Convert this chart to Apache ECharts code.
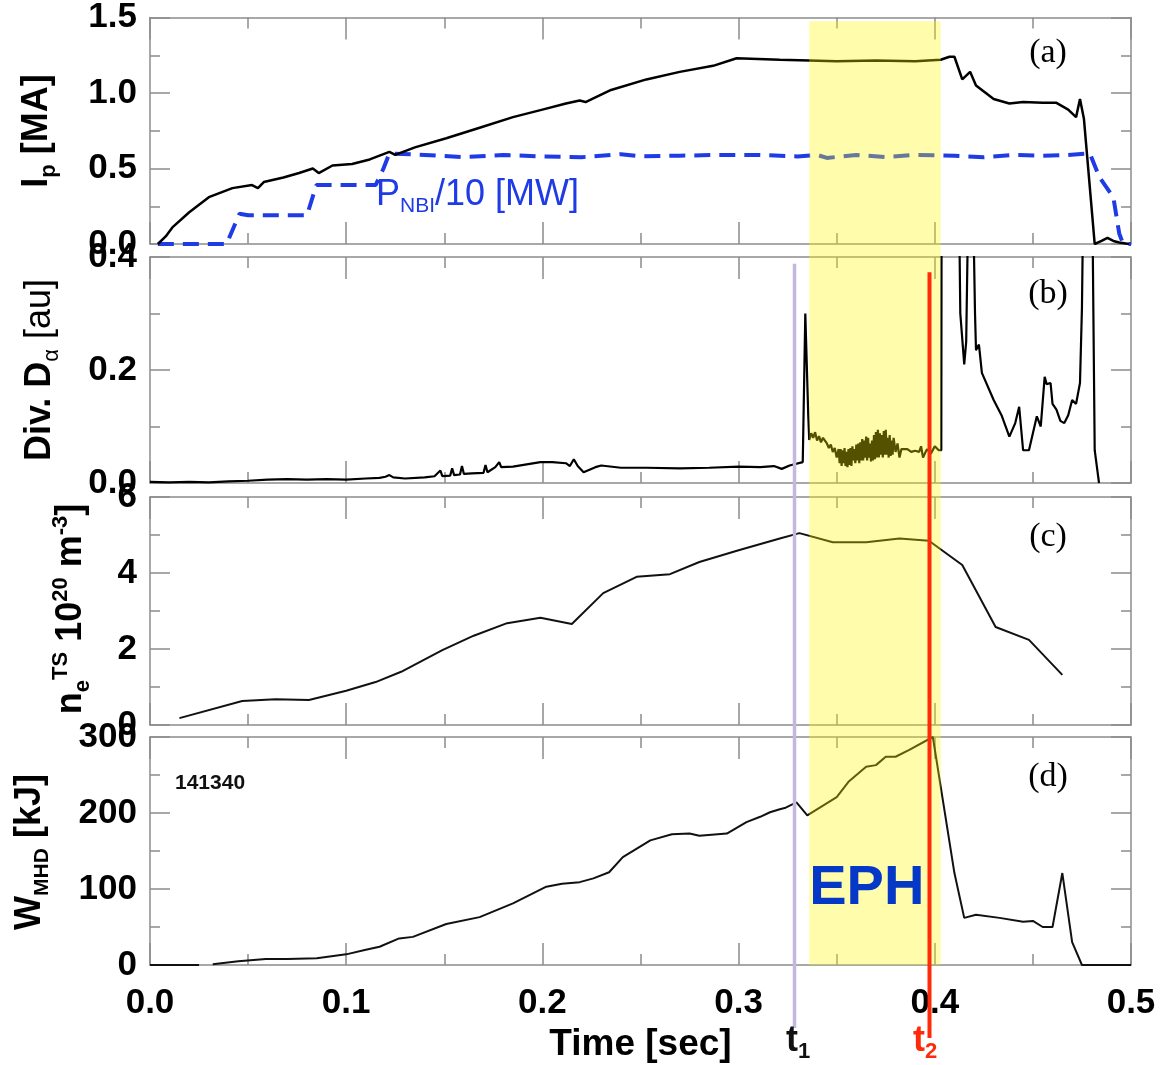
<!DOCTYPE html>
<html><head><meta charset="utf-8">
<script src="https://cdn.jsdelivr.net/npm/echarts@6/dist/echarts.min.js"></script>
<style>html,body{margin:0;padding:0;background:#fff}#c{width:1165px;height:1065px}</style>
</head><body><div id="c"></div>
<script>
// ---------- tick labels ----------
const timeTicks = ['0.0','0.1','0.2','0.3','0.4','0.5'];
const ipTicks = ['0.0','0.5','1.0','1.5'];
const daTicks = ['0.0','0.2','0.4'];
const neTicks = ['0','2','4','6'];
const wTicks = ['0','100','200','300'];

// ---------- (a) plasma current [MA] ----------
const ipPoints = [[0.004,0.0],[0.008,0.05],[0.0114,0.11],[0.02,0.21],[0.030,0.31],[0.036,0.34],[0.042,0.37],[0.052,0.39],[0.055,0.37],[0.058,0.41],[0.068,0.44],[0.076,0.47],[0.083,0.50],[0.086,0.47],[0.093,0.52],[0.103,0.53],[0.112,0.56],[0.122,0.61],[0.125,0.59],[0.135,0.64],[0.151,0.70],[0.168,0.77],[0.185,0.84],[0.200,0.89],[0.212,0.93],[0.219,0.95],[0.222,0.94],[0.235,1.02],[0.253,1.09],[0.270,1.14],[0.287,1.18],[0.299,1.23],[0.310,1.225],[0.321,1.22],[0.336,1.215],[0.350,1.21],[0.370,1.215],[0.390,1.21],[0.403,1.22],[0.4075,1.24],[0.410,1.24],[0.414,1.09],[0.418,1.14],[0.421,1.05],[0.430,0.96],[0.438,0.93],[0.445,0.94],[0.455,0.935],[0.462,0.935],[0.468,0.89],[0.472,0.84],[0.474,0.96],[0.476,0.83],[0.4815,0.0],[0.485,0.02],[0.488,0.04],[0.491,0.02],[0.494,0.01],[0.499,0.0]];
// P_NBI / 10 [MW]
const pnbiPoints = [[0.004,0],[0.039,0],[0.0456,0.20],[0.05,0.19],[0.080,0.19],[0.0848,0.39],[0.115,0.39],[0.119,0.50],[0.122,0.60],[0.14,0.59],[0.16,0.575],[0.18,0.59],[0.20,0.58],[0.22,0.575],[0.24,0.595],[0.25,0.58],[0.27,0.585],[0.29,0.59],[0.31,0.59],[0.33,0.58],[0.34,0.59],[0.345,0.57],[0.36,0.59],[0.375,0.575],[0.39,0.59],[0.41,0.585],[0.425,0.575],[0.44,0.59],[0.455,0.585],[0.468,0.59],[0.479,0.60],[0.484,0.44],[0.491,0.31],[0.494,0.07],[0.496,0.0],[0.5,0.0]];

// ---------- (b) divertor D-alpha [au] ----------
const dalphaPoints = [[0.0,0.002],[0.01,0.001],[0.02,0.002],[0.03,0.001],[0.04,0.003],[0.05,0.004],[0.06,0.006],[0.07,0.007],[0.08,0.006],[0.09,0.007],[0.10,0.006],[0.11,0.008],[0.117,0.009],[0.12,0.011],[0.122,0.014],[0.124,0.010],[0.13,0.008],[0.14,0.010],[0.145,0.012],[0.148,0.022],[0.149,0.012],[0.153,0.013],[0.154,0.026],[0.155,0.014],[0.158,0.015],[0.159,0.030],[0.160,0.016],[0.164,0.017],[0.170,0.018],[0.171,0.032],[0.172,0.019],[0.176,0.028],[0.178,0.037],[0.179,0.028],[0.185,0.029],[0.199,0.037],[0.205,0.037],[0.212,0.035],[0.214,0.030],[0.216,0.042],[0.218,0.030],[0.221,0.019],[0.227,0.028],[0.230,0.031],[0.240,0.027],[0.253,0.027],[0.270,0.026],[0.285,0.027],[0.300,0.029],[0.311,0.028],[0.318,0.030],[0.322,0.025],[0.326,0.031],[0.3327,0.037],[0.334,0.30],[0.3355,0.12],[0.336,0.076],[0.337,0.088],[0.338,0.080],[0.339,0.090],[0.340,0.075],[0.341,0.083],[0.342,0.072],[0.343,0.080],[0.345,0.070],[0.346,0.062],[0.347,0.068],[0.348,0.055],[0.349,0.062],[0.350,0.045],[0.351,0.060],[0.3515,0.035],[0.352,0.060],[0.3525,0.030],[0.353,0.058],[0.3535,0.035],[0.354,0.062],[0.3545,0.030],[0.355,0.055],[0.3555,0.028],[0.356,0.060],[0.3565,0.032],[0.357,0.062],[0.3575,0.030],[0.358,0.065],[0.3585,0.040],[0.359,0.060],[0.3595,0.035],[0.360,0.068],[0.3605,0.040],[0.361,0.070],[0.3615,0.035],[0.362,0.072],[0.3625,0.040],[0.363,0.078],[0.3635,0.040],[0.364,0.075],[0.3645,0.045],[0.365,0.082],[0.3655,0.040],[0.366,0.080],[0.3665,0.045],[0.367,0.070],[0.3675,0.038],[0.368,0.075],[0.3685,0.040],[0.369,0.085],[0.3695,0.042],[0.370,0.090],[0.3705,0.045],[0.371,0.094],[0.3715,0.045],[0.372,0.088],[0.3725,0.050],[0.373,0.085],[0.3735,0.045],[0.374,0.092],[0.3745,0.050],[0.375,0.094],[0.3755,0.050],[0.376,0.080],[0.3765,0.045],[0.377,0.085],[0.3775,0.048],[0.378,0.075],[0.3785,0.050],[0.379,0.080],[0.380,0.055],[0.381,0.070],[0.382,0.045],[0.383,0.060],[0.384,0.058],[0.386,0.060],[0.388,0.055],[0.390,0.057],[0.392,0.055],[0.393,0.065],[0.394,0.045],[0.396,0.060],[0.398,0.052],[0.400,0.065],[0.402,0.058],[0.4033,0.058],[0.4035,0.60],[0.412,0.60],[0.413,0.30],[0.415,0.21],[0.416,0.25],[0.4175,0.60],[0.419,0.60],[0.4205,0.30],[0.421,0.235],[0.4225,0.245],[0.424,0.195],[0.430,0.147],[0.434,0.120],[0.438,0.082],[0.441,0.106],[0.442,0.108],[0.443,0.135],[0.445,0.058],[0.448,0.058],[0.452,0.118],[0.454,0.100],[0.456,0.188],[0.457,0.175],[0.459,0.177],[0.460,0.140],[0.462,0.130],[0.464,0.110],[0.466,0.106],[0.468,0.120],[0.470,0.147],[0.472,0.140],[0.474,0.177],[0.475,0.31],[0.476,0.60],[0.480,0.60],[0.4815,0.058],[0.4837,0.0]];

// ---------- (c) Thomson density [1e20 m^-3] ----------
const nePoints = [[0.015,0.18],[0.047,0.63],[0.064,0.68],[0.081,0.66],[0.100,0.90],[0.115,1.13],[0.128,1.40],[0.149,1.97],[0.165,2.35],[0.182,2.68],[0.199,2.82],[0.215,2.66],[0.231,3.47],[0.248,3.90],[0.265,3.97],[0.280,4.29],[0.300,4.60],[0.321,4.91],[0.331,5.05],[0.348,4.81],[0.365,4.81],[0.382,4.91],[0.397,4.85],[0.414,4.21],[0.431,2.58],[0.448,2.24],[0.465,1.32]];

// ---------- (d) stored energy [kJ] ----------
const wmhdPoints = [[0.0,0],[0.025,0],[0.028,'-'],[0.032,1],[0.045,5],[0.059,8],[0.070,8],[0.085,9],[0.100,14],[0.110,20],[0.117,24],[0.127,35],[0.134,37],[0.151,54],[0.168,63],[0.185,81],[0.202,103],[0.210,107],[0.219,109],[0.226,114],[0.234,122],[0.241,142],[0.255,164],[0.266,172],[0.275,173],[0.280,170],[0.294,173],[0.304,188],[0.311,195],[0.316,201],[0.321,205],[0.324,207],[0.3295,214],[0.335,197],[0.350,221],[0.356,241],[0.365,261],[0.370,263],[0.375,274],[0.380,274],[0.387,283],[0.399,300],[0.410,121],[0.415,62],[0.421,66],[0.433,62],[0.445,57],[0.450,58],[0.455,50],[0.460,50],[0.465,121],[0.470,30],[0.475,0],[0.500,0]];

// ---------- event times ----------
const t1 = 0.3285, t2 = 0.3973;
const ephStart = 0.336, ephEnd = 0.403;

const chart = echarts.init(document.getElementById('c'), null, {renderer: 'canvas'});

const AX = '#8c8c8c';
const LABEL_FONT = 'Liberation Sans';
const grids = [
  {left: 150, right: 34, top: 16, height: 228},
  {left: 150, right: 34, top: 257, height: 226},
  {left: 150, right: 34, top: 497, height: 228},
  {left: 150, right: 34, top: 737, height: 228}
];
const yRanges = [[0, 1.5, 0.5, ipTicks], [0, 0.4, 0.2, daTicks], [0, 6, 2, neTicks], [0, 300, 100, wTicks]];

const xAxes = [], yAxes = [];
grids.forEach((g, i) => {
  ['bottom', 'top'].forEach(pos => {
    const showLab = (i === 3 && pos === 'bottom');
    const ax = {
      type: 'value', gridIndex: i, position: pos, min: 0, max: 0.5, interval: 0.1,
      axisLine: {show: true, onZero: false, lineStyle: {color: AX, width: 1.5}},
      axisTick: {show: true, inside: true, length: 22, lineStyle: {color: AX, width: 1.5}},
      minorTick: {show: true, splitNumber: 2, length: 11, lineStyle: {color: AX, width: 1.5}},
      splitLine: {show: false}, minorSplitLine: {show: false},
      axisLabel: {show: showLab, fontFamily: LABEL_FONT, fontWeight: 'bold', fontSize: 35, color: '#000', margin: 21,
        formatter: (v, idx) => timeTicks[idx]}
    };
    if (showLab) {
      ax.name = 'Time [sec]';
      ax.nameLocation = 'middle';
      ax.nameGap = 61;
      ax.nameTextStyle = {fontFamily: LABEL_FONT, fontWeight: 'bold', fontSize: 37, color: '#000'};
    }
    xAxes.push(ax);
  });
  ['left', 'right'].forEach(pos => {
    const r = yRanges[i];
    yAxes.push({
      type: 'value', gridIndex: i, position: pos, min: r[0], max: r[1], interval: r[2],
      axisLine: {show: true, onZero: false, lineStyle: {color: AX, width: 1.5}},
      axisTick: {show: true, inside: true, length: 20, lineStyle: {color: AX, width: 1.5}},
      minorTick: {show: true, splitNumber: 2, length: 10, lineStyle: {color: AX, width: 1.5}},
      splitLine: {show: false}, minorSplitLine: {show: false},
      axisLabel: {show: pos === 'left', fontFamily: LABEL_FONT, fontWeight: 'bold', fontSize: 35, color: '#000', margin: 13,
        formatter: (v, idx) => r[3][idx]}
    });
  });
});

function lineSeries(gi, data, style, z) {
  return {type: 'line', xAxisIndex: gi * 2, yAxisIndex: gi * 2, data: data, symbol: 'none', showSymbol: false,
    lineStyle: style, animation: false, z: z || 2, clip: true, silent: true};
}

const option = {
  animation: false,
  backgroundColor: '#fff',
  grid: grids,
  xAxis: xAxes,
  yAxis: yAxes,
  series: [
    lineSeries(0, pnbiPoints, {color: '#1f3be6', width: 4, type: [16, 9]}, 2),
    lineSeries(0, ipPoints, {color: '#000', width: 2.5}, 3),
    lineSeries(1, dalphaPoints, {color: '#000', width: 2.2}, 3),
    lineSeries(2, nePoints, {color: '#111', width: 2}, 3),
    lineSeries(3, wmhdPoints, {color: '#111', width: 2}, 3)
  ]
};
chart.setOption(option);

const px = v => chart.convertToPixel({xAxisIndex: 0}, v);
const py = (axisIdx, v) => chart.convertToPixel({yAxisIndex: axisIdx}, v);
const bandL = px(ephStart), bandR = px(ephEnd);
const bandTop = py(0, 1.475), bandBottom = py(6, 0);

function rtext(x, y, rot, rich, text) {
  return {
    type: 'text', x: x, y: y, rotation: rot, silent: true, z: 130,
    style: {text: text, rich: rich, align: 'center', verticalAlign: 'middle', textAlign: 'center', textVerticalAlign: 'middle', fill: '#000'}
  };
}
const B = 'bold';
const mainTok = (w, fs, color) => ({fontFamily: LABEL_FONT, fontWeight: w, fontSize: fs, lineHeight: 44, verticalAlign: 'middle', fill: color || '#000', color: color || '#000'});
const subTok = (w, fs, color) => ({fontFamily: LABEL_FONT, fontWeight: w, fontSize: fs, lineHeight: 12, verticalAlign: 'bottom', fill: color || '#000', color: color || '#000'});
const supTok = (w, fs, color) => ({fontFamily: LABEL_FONT, fontWeight: w, fontSize: fs, lineHeight: 14, verticalAlign: 'top', fill: color || '#000', color: color || '#000'});

const R = Math.PI / 2;
const tagStyle = t => ({text: t, fontFamily: 'Liberation Serif', fontSize: 34, fill: '#000', align: 'center', verticalAlign: 'middle', textAlign: 'center', textVerticalAlign: 'middle'});
const graphics = [
  // EPH band overlay
  {type: 'rect', silent: true, z: 100, shape: {x: bandL, y: bandTop, width: bandR - bandL, height: bandBottom - bandTop},
    style: {fill: 'rgba(255,246,0,0.33)'}},
  // t1 line
  {type: 'line', silent: true, z: 90, shape: {x1: px(t1), y1: py(2, 0.388), x2: px(t1), y2: 1028},
    style: {stroke: '#c6b7dc', lineWidth: 3.5}},
  // t2 line
  {type: 'line', silent: true, z: 120, shape: {x1: px(t2), y1: py(2, 0.373), x2: px(t2), y2: 1038},
    style: {stroke: '#ff2a0a', lineWidth: 4}},
  // EPH label
  {type: 'text', silent: true, z: 130, x: bandL, y: 889,
    style: {text: 'EPH', fontFamily: 'Liberation Sans', fontWeight: 'bold', fontSize: 56, fill: '#0638c8', align: 'left', verticalAlign: 'middle', textAlign: 'left', textVerticalAlign: 'middle'}},
  // y-axis titles
  rtext(37.5, 131, R, {m: mainTok(B, 36), s: subTok(B, 22)}, '{m|I}{s|p}{m| [MA]}'),
  rtext(40.5, 370, R, {m: mainTok(B, 36), n: mainTok('normal', 36), s: subTok('normal', 22)}, '{m|Div. D}{s|α}{n| [au]}'),
  rtext(71.5, 609, R, {m: mainTok(B, 36), s: subTok(B, 22), u: supTok(B, 22)}, '{m|n}{s|e}{u|TS}{m| 10}{u|20}{m| m}{u|-3}{m|]}'),
  rtext(30.5, 852, R, {m: mainTok(B, 36), s: subTok(B, 21)}, '{m|W}{s|MHD}{m| [kJ]}'),
  // panel tags
  {type: 'text', silent: true, z: 130, x: 1048, y: 53, style: tagStyle('(a)')},
  {type: 'text', silent: true, z: 130, x: 1048, y: 294, style: tagStyle('(b)')},
  {type: 'text', silent: true, z: 130, x: 1048, y: 537, style: tagStyle('(c)')},
  {type: 'text', silent: true, z: 130, x: 1048, y: 777, style: tagStyle('(d)')},
  // P_NBI label
  {type: 'text', silent: true, z: 130, x: 376, y: 195,
    style: {text: '{m|P}{s|NBI}{m|/10 [MW]}', align: 'left', verticalAlign: 'middle', textAlign: 'left', textVerticalAlign: 'middle',
      rich: {m: mainTok('normal', 36, '#1f3be6'), s: subTok('normal', 21, '#1f3be6')}}},
  // shot number
  {type: 'text', silent: true, z: 130, x: 175, y: 783,
    style: {text: '141340', fontFamily: LABEL_FONT, fontWeight: 'bold', fontSize: 21, fill: '#111', align: 'left', verticalAlign: 'middle', textAlign: 'left', textVerticalAlign: 'middle'}},
  // t1, t2 labels
  {type: 'text', silent: true, z: 130, x: 786, y: 1041,
    style: {text: '{m|t}{s|1}', align: 'left', verticalAlign: 'middle', textAlign: 'left', textVerticalAlign: 'middle',
      rich: {m: mainTok(B, 36, '#111'), s: subTok(B, 22, '#111')}}},
  {type: 'text', silent: true, z: 130, x: 913, y: 1041,
    style: {text: '{m|t}{s|2}', align: 'left', verticalAlign: 'middle', textAlign: 'left', textVerticalAlign: 'middle',
      rich: {m: mainTok(B, 36, '#ff2a0a'), s: subTok(B, 22, '#ff2a0a')}}}
];
chart.setOption({graphic: graphics});
</script>
</body></html>
